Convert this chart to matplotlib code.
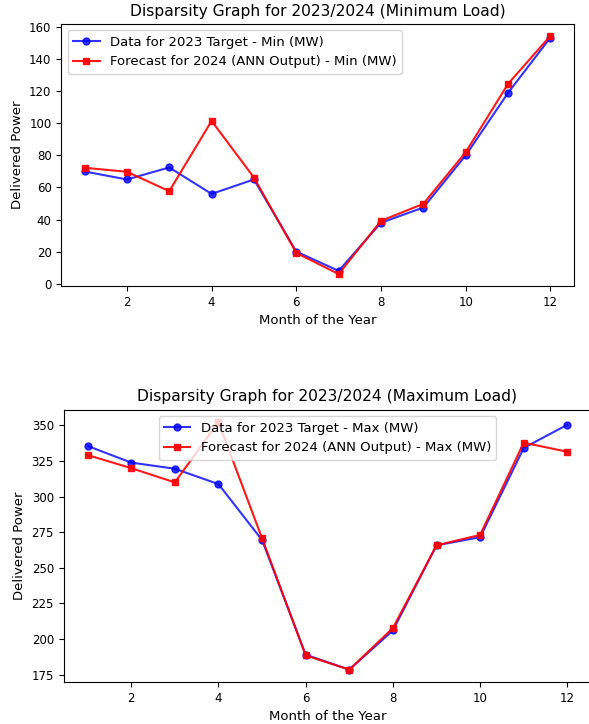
import matplotlib
matplotlib.use('Agg')
import matplotlib.pyplot as plt

months = list(range(1, 13))

min_target_2023 = [70, 65, 72.5, 56, 65, 20, 8, 38, 47.5, 80, 119, 153.5]
min_forecast_2024 = [72.3, 69.8, 57.7, 101.5, 66.2, 19.2, 6, 39.2, 49.8, 82, 124.6, 154.6]

max_target_2023 = [335.6, 323.9, 319.6, 308.8, 269.5, 189, 178.5, 206, 265.8, 271.5, 334.2, 350.5]
max_forecast_2024 = [329.2, 320, 310, 352.3, 270.8, 188.5, 178.5, 207.7, 265.8, 273.1, 337.9, 331.5]

fig = plt.figure(figsize=(5.89, 7.24), dpi=100)

ax1 = fig.add_axes([0.104, 0.605, 0.870, 0.362])
ax1.plot(months, min_target_2023, color='blue', marker='o', markersize=5, alpha=0.8,
         label='Data for 2023 Target - Min (MW)')
ax1.plot(months, min_forecast_2024, color='red', marker='s', markersize=5, alpha=0.9,
         label='Forecast for 2024 (ANN Output) - Min (MW)')
ax1.set_title('Disparsity Graph for 2023/2024 (Minimum Load)', fontsize=11.2)
ax1.set_xlabel('Month of the Year', fontsize=9.5)
ax1.set_ylabel('Delivered Power', fontsize=9.5)
ax1.tick_params(labelsize=8.5)
ax1.legend(loc='upper left', fontsize=9.5)

ax2 = fig.add_axes([0.108, 0.058, 0.896, 0.376])
ax2.plot(months, max_target_2023, color='blue', marker='o', markersize=5, alpha=0.8,
         label='Data for 2023 Target - Max (MW)')
ax2.plot(months, max_forecast_2024, color='red', marker='s', markersize=5, alpha=0.9,
         label='Forecast for 2024 (ANN Output) - Max (MW)')
ax2.set_title('Disparsity Graph for 2023/2024 (Maximum Load)', fontsize=11.2)
ax2.set_xlabel('Month of the Year', fontsize=9.5)
ax2.set_ylabel('Delivered Power', fontsize=9.5)
ax2.tick_params(labelsize=8.5)
ax2.legend(loc='upper center', fontsize=9.5)

fig.savefig('out.png', dpi=100)
